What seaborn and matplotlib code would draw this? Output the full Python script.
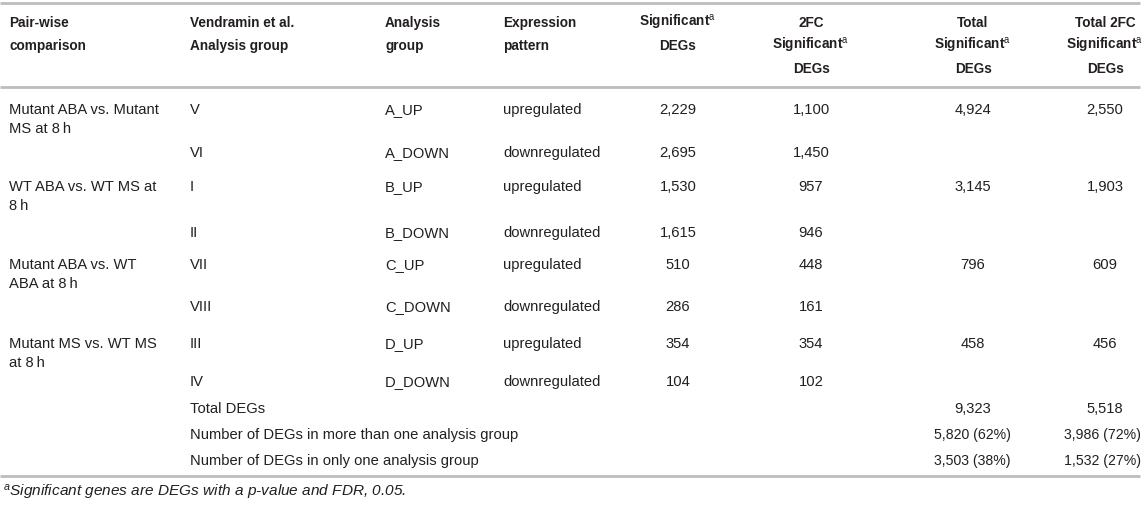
import matplotlib
matplotlib.use("Agg")
import matplotlib.pyplot as plt
import seaborn as sns

sns.set_theme(style="white")
plt.rcParams["font.family"] = ["Liberation Sans", "DejaVu Sans"]
plt.rcParams["mathtext.fontset"] = "custom"
plt.rcParams["mathtext.rm"] = "Liberation Sans"
plt.rcParams["mathtext.it"] = "Liberation Sans:italic"

# table content
headers = [
    ["Pair-wise", "comparison"],
    ["Vendramin et al.", "Analysis group"],
    ["Analysis", "group"],
    ["Expression", "pattern"],
    ["Significant$^{\\mathrm{a}}$", "DEGs"],
    ["2FC", "Significant$^{\\mathrm{a}}$", "DEGs"],
    ["Total", "Significant$^{\\mathrm{a}}$", "DEGs"],
    ["Total 2FC", "Significant$^{\\mathrm{a}}$", "DEGs"],
]
comparisons = [
    ["Mutant ABA vs. Mutant", "MS at 8\u2009h"], [],
    ["WT ABA vs. WT MS at", "8\u2009h"], [],
    ["Mutant ABA vs. WT", "ABA at 8\u2009h"], [],
    ["Mutant MS vs. WT MS", "at 8\u2009h"], [],
]
vendramin = ["V", "VI", "I", "II", "VII", "VIII", "III", "IV"]
groups = ["A_UP", "A_DOWN", "B_UP", "B_DOWN", "C_UP", "C_DOWN", "D_UP", "D_DOWN"]
patterns = ["upregulated", "downregulated"] * 4
sig_degs = ["2,229", "2,695", "1,530", "1,615", "510", "286", "354", "104"]
fc_degs = ["1,100", "1,450", "957", "946", "448", "161", "354", "102"]
total_sig = ["4,924", "", "3,145", "", "796", "", "458", ""]
total_fc = ["2,550", "", "1,903", "", "609", "", "456", ""]
summary_labels = [
    "Total DEGs",
    "Number of DEGs in more than one analysis group",
    "Number of DEGs in only one analysis group",
]
summary_sig = ["9,323", "5,820 (62%)", "3,503 (38%)"]
summary_fc = ["5,518", "3,986 (72%)", "1,532 (27%)"]
footnote = "$^{a}$Significant genes are DEGs with a p-value and FDR, 0.05."

# layout (pixel coordinates, text placed on its baseline)
W, H = 1145, 510
text_color = "#231f20"
line_color = "#bdbdbd"
fs_head = 9.8
fs_body = 10.6
fs_pct = 10.2
fs_note = 11.1
left_x = [9, 190, 385, 503]
center_x = [678, 811, 973, 1105]
pct_x = [972, 1102]
header_y = [22, 45, 68]
row_y = [109, 152, 186, 232, 264, 306, 343, 381]
summary_y = [408, 434, 460]
line_gap = 19


def put(x, y, s, ha="left", fontsize=fs_body, **kw):
    # shift by half the cap height so y is the visual centre of the line
    base = 0.716 * fontsize * 100 / 72 / 2
    ax.text(x, y + base, s, ha=ha, va="baseline", fontsize=fontsize,
            color=text_color, **kw)


fig = plt.figure(figsize=(W / 100, H / 100), dpi=100)
ax = fig.add_axes([0, 0, 1, 1])
ax.set_xlim(0, W)
ax.set_ylim(H, 0)
ax.axis("off")

for y in [4, 88, 477]:
    ax.plot([0, 1140], [y, y], color=line_color, lw=2, solid_capstyle="butt")

for i, hdr in enumerate(headers):
    for j, line in enumerate(hdr):
        if i < 4:
            put(left_x[i], header_y[j], line, fontsize=fs_head, fontweight="bold")
        else:
            put(center_x[i - 4], header_y[j], line, ha="center",
                fontsize=fs_head, fontweight="bold")

for r, y in enumerate(row_y):
    for j, line in enumerate(comparisons[r]):
        put(left_x[0], y + j * line_gap, line)
    for col, vals in zip(left_x[1:], [vendramin, groups, patterns]):
        put(col, y, vals[r])
    for col, vals in zip(center_x, [sig_degs, fc_degs, total_sig, total_fc]):
        put(col, y, vals[r], ha="center")

for k, y in enumerate(summary_y):
    put(left_x[1], y, summary_labels[k])
    if "%" in summary_sig[k]:
        put(pct_x[0], y, summary_sig[k], ha="center", fontsize=fs_pct)
        put(pct_x[1], y, summary_fc[k], ha="center", fontsize=fs_pct)
    else:
        put(center_x[2], y, summary_sig[k], ha="center")
        put(center_x[3], y, summary_fc[k], ha="center")

put(3, 491, footnote, fontsize=fs_note, style="italic")

fig.savefig("out.png", dpi=100)
